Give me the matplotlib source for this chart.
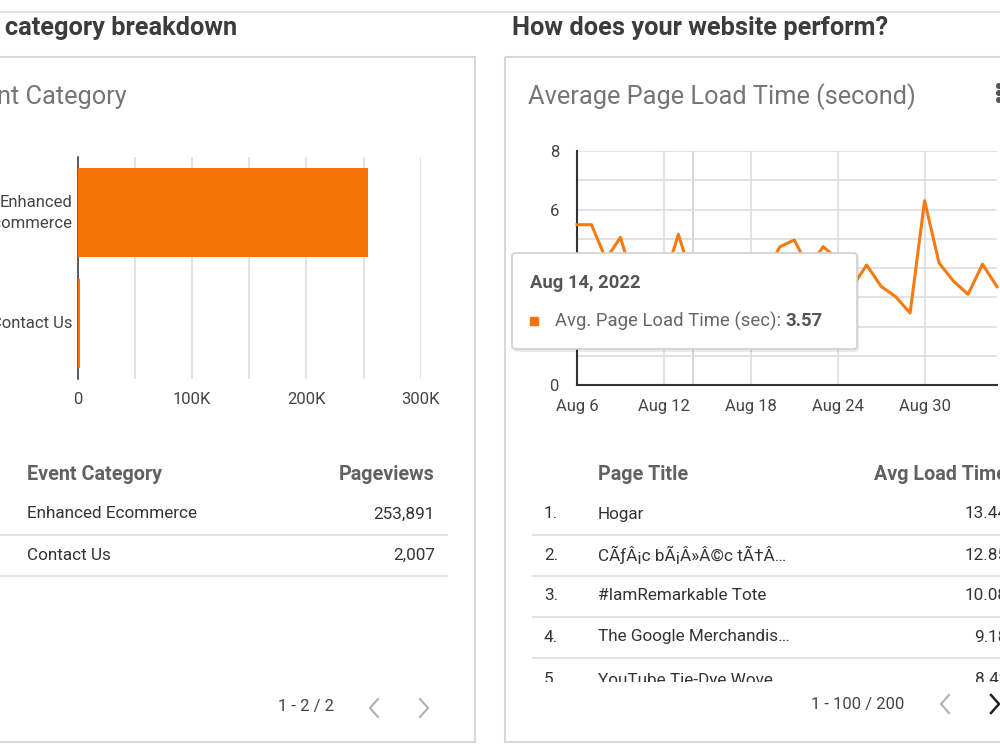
import matplotlib
matplotlib.use('Agg')
import matplotlib.pyplot as plt
import matplotlib.dates as mdates
from matplotlib.patches import Rectangle, FancyBboxPatch
from matplotlib.ticker import FuncFormatter, MultipleLocator
from matplotlib.transforms import Bbox, TransformedBbox
import pandas as pd

plt.rcParams['font.family'] = ['Roboto', 'DejaVu Sans']

# --- data ---
categories = ['Enhanced\nEcommerce', 'Contact Us']
category_names = ['Enhanced Ecommerce', 'Contact Us']
pageviews = [253891, 2007]
bar_ticks = [0, 100000, 200000, 300000]

dates = pd.date_range('2022-08-06', '2022-09-04', freq='D')
load_time = [5.48, 5.48, 4.30, 5.05, 3.40, 3.70, 3.55, 5.15, 3.57, 3.90,
             3.60, 4.00, 3.70, 3.80, 4.72, 4.96, 4.00, 4.73, 4.30, 3.35,
             4.10, 3.37, 3.02, 2.46, 6.30, 4.17, 3.55, 3.10, 4.13, 3.36]
hover_date = pd.Timestamp('2022-08-14')
hover_value = 3.57

page_titles = ['Hogar', 'CÃƒÂ¡c bÃ¡Â»Â©c tÃ†Â…', '#IamRemarkable Tote',
               'The Google Merchandis…', 'YouTube Tie-Dye Wove…']
page_load = ['13.44', '12.85', '10.08', '9.18', '8.42']

ORANGE = '#f57206'
GRID = '#dddddd'
DARK = '#333333'

fig = plt.figure(figsize=(10, 7.5), dpi=100)
fig.patch.set_facecolor('white')


def fig_rect(x0, y0, x1, y1):
    # pixel box (y down) -> figure fraction rect
    return [x0 / 1000, 1 - y1 / 750, (x1 - x0) / 1000, (y1 - y0) / 750]


# --- bar chart ---
axb = fig.add_axes(fig_rect(77.7, 157.3, 420.7, 379.3))
axb.barh(range(len(categories)), pageviews, height=0.8, color=ORANGE, zorder=3)
axb.set_ylim(len(categories) - 0.5, -0.5)
axb.set_xlim(0, 300000)
axb.set_yticks(range(len(categories)))
axb.set_yticklabels(categories, fontsize=12, color='#444444', ha='right', ma='right',
                    linespacing=1.45, va='center')
axb.set_xticks(bar_ticks)
axb.xaxis.set_minor_locator(MultipleLocator(50000))
axb.xaxis.set_major_formatter(FuncFormatter(lambda v, p: '0' if v == 0 else f'{int(v / 1000)}K'))
axb.tick_params(axis='x', length=0, pad=9, labelsize=12, labelcolor='#444444')
axb.tick_params(axis='x', which='minor', length=0)
axb.tick_params(axis='y', length=0, pad=4)
axb.grid(axis='x', which='both', color=GRID, linewidth=1.2, zorder=0)
for s in ['top', 'right', 'bottom']:
    axb.spines[s].set_visible(False)
axb.spines['left'].set_color(DARK)
axb.spines['left'].set_linewidth(1.1)
axb.spines['left'].set_zorder(2)

# --- line chart ---
axl = fig.add_axes(fig_rect(577, 151, 997, 385))
axl.plot(dates, load_time, color='#f57a10', linewidth=2.2, zorder=3, clip_on=False)
axl.set_xlim(dates[0], dates[-1])
axl.set_ylim(0, 8)
axl.set_yticks([0, 2, 4, 6, 8])
axl.yaxis.set_minor_locator(MultipleLocator(1))
axl.xaxis.set_major_locator(mdates.DayLocator(bymonthday=[6, 12, 18, 24, 30]))
axl.xaxis.set_major_formatter(mdates.DateFormatter('%b %-d'))
axl.tick_params(axis='x', length=0, pad=10, labelsize=12, labelcolor='#444444')
axl.tick_params(axis='y', which='both', length=0, pad=13, labelsize=12, labelcolor='#444444')
axl.grid(which='both', color=GRID, linewidth=1.2, zorder=0)
axl.axvline(hover_date, color='#d0d0d0', linewidth=1.2, zorder=1)
for s in ['top', 'right']:
    axl.spines[s].set_visible(False)
for s in ['left', 'bottom']:
    axl.spines[s].set_color(DARK)
    axl.spines[s].set_linewidth(1.5)

# --- overlay in pixel coords ---
ax = fig.add_axes([0, 0, 1, 1], zorder=10)
ax.set_xlim(0, 1000)
ax.set_ylim(750, 0)
ax.axis('off')
ax.patch.set_alpha(0)

ax.plot([0, 1000], [12, 12], color='#e2e2e2', lw=1.5)
ax.add_patch(Rectangle((-2, 57), 477, 685, fill=False, ec='#d8d8d8', lw=1.5))
ax.add_patch(Rectangle((505, 57), 500, 685, fill=False, ec='#d8d8d8', lw=1.5))

ax.text(237, 28, 'Event category breakdown', ha='right', va='center',
        fontsize=18.3, fontweight='bold', color='#3c3c3c')
ax.text(512, 28, 'How does your website perform?', ha='left', va='center',
        fontsize=18.3, fontweight='bold', color='#3c3c3c')
ax.text(127, 97, 'Event Category', ha='right', va='center', fontsize=18.3, color='#757575')
ax.text(528, 97, 'Average Page Load Time (second)', ha='left', va='center',
        fontsize=18.3, color='#757575')
for yy in [86, 93, 100]:
    ax.add_patch(plt.Circle((999, yy), 2.3, color='#555555'))

# tooltip
ax.add_patch(FancyBboxPatch((514, 256), 345, 96, boxstyle='round,pad=0,rounding_size=3',
                            fc='#000000', ec='none', alpha=0.08))
ax.add_patch(FancyBboxPatch((512, 253), 345, 96, boxstyle='round,pad=0,rounding_size=3',
                            fc='white', ec='#d0d0d0', lw=1.2))
ax.text(530, 283, hover_date.strftime('%b %-d, %Y'), ha='left', va='center',
        fontsize=13.2, fontweight='bold', color='#555555')
ax.add_patch(Rectangle((530, 317), 8, 8, color=ORANGE))
t1 = ax.text(555, 321, 'Avg. Page Load Time (sec): ', ha='left', va='center',
             fontsize=13.3, color='#666666')
fig.canvas.draw()
bb = t1.get_window_extent().transformed(ax.transData.inverted())
ax.text(bb.x1, 321, f'{hover_value:.2f}', ha='left', va='center',
        fontsize=13.3, fontweight='bold', color='#555555')

# left table
ax.text(27, 474, 'Event Category', ha='left', va='center', fontsize=14.2,
        fontweight='bold', color='#616161')
ax.text(435, 474, 'Pageviews', ha='right', va='center', fontsize=14.2,
        fontweight='bold', color='#616161')
for i, (name, val) in enumerate(zip(category_names, pageviews)):
    y = 514 + i * 41
    ax.text(27, y, name, ha='left', va='center', fontsize=12.3, color='#333333')
    ax.text(435, y, f'{val:,}', ha='right', va='center', fontsize=12.3, color='#333333')
    ax.plot([0, 447], [y + 21, y + 21], color='#dddddd', lw=1.2)
ax.text(306, 707, '1 - 2 / 2', ha='center', va='center', fontsize=12, color='#444444')
ax.plot([378, 370, 378], [699, 708, 717], color='#b0b0b0', lw=1.5)
ax.plot([420, 428, 420], [699, 708, 717], color='#b0b0b0', lw=1.5)

# right table
ax.text(598, 474, 'Page Title', ha='left', va='center', fontsize=14.2,
        fontweight='bold', color='#616161')
ax.text(874, 474, 'Avg Load Time', ha='left', va='center', fontsize=14.2,
        fontweight='bold', color='#616161')
# visible scroll area of the table (rows below it are cut off)
clip = TransformedBbox(Bbox.from_extents(505 / 1000, 1 - 682 / 750, 1.0, 1 - 455 / 750),
                       fig.transFigure)
for i, (title, val) in enumerate(zip(page_titles, page_load)):
    y = 514 + i * 41
    for x, s, ha in [(544, f'{i + 1}.', 'left'), (598, title, 'left'), (1008, val, 'right')]:
        t = ax.text(x, y + (2 if i == 4 else 0), s, ha=ha, va='center', fontsize=12.3,
                    color='#333333')
        t.set_clip_path(None)
        t.set_clip_box(clip)
        t.set_clip_on(True)
    if i < 4:
        ax.plot([533, 1000], [y + 21, y + 21], color='#dddddd', lw=1.2)
ax.text(858, 704, '1 - 100 / 200', ha='center', va='center', fontsize=12, color='#444444')
ax.plot([949, 941, 949], [695, 704, 713], color='#b0b0b0', lw=1.5)
ax.plot([991, 999, 991], [695, 704, 713], color='#222222', lw=1.8)

fig.savefig('out.png', dpi=100, facecolor='white')
